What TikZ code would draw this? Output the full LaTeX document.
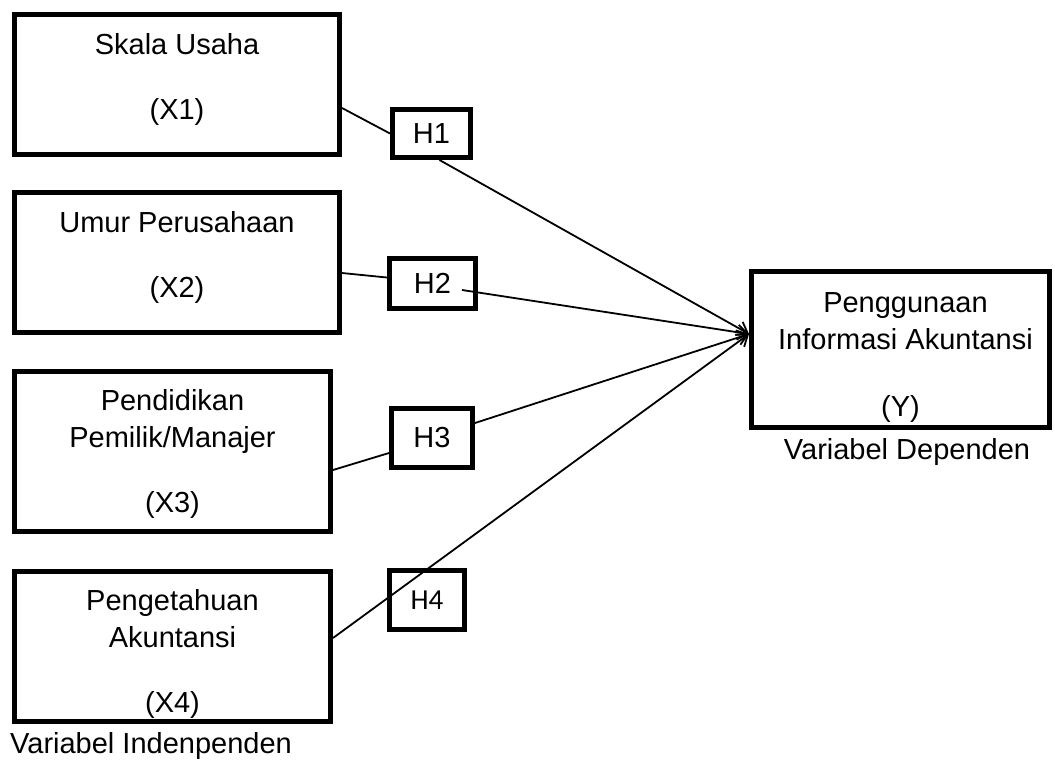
\documentclass[tikz,border=0pt]{standalone}
\usepackage{fontspec}
\setmainfont{Liberation Sans}
\newfontfamily\calibrifont{Carlito}
\usetikzlibrary{arrows.meta,positioning}
\begin{document}
\begin{tikzpicture}[x=1pt,y=-1pt,>={Straight Barb[length=10pt,width=15pt]}]
  \tikzstyle{every node}=[font=\fontsize{29}{37}\selectfont]
  \tikzstyle{varbox}=[rectangle,draw=black,line width=5pt,align=center,inner sep=0pt]
  \tikzstyle{hypbox}=[rectangle,draw=black,line width=5pt,inner sep=0pt]
  \tikzstyle{link}=[line width=1.8pt]
  \tikzstyle{captext}=[inner sep=0pt]
  \useasboundingbox (0,0) rectangle (1055,761);
  \begin{scope}
    \node [varbox,minimum width=325pt,minimum height=140pt] (x1) at (177,84.5) {Skala Usaha\\[28pt](X1)\\[-21pt]\mbox{}};
    \node [varbox,minimum width=325pt,minimum height=140pt] (x2) at (177,262.5) {Umur Perusahaan\\[28pt](X2)\\[-21pt]\mbox{}};
    \node [varbox,minimum width=316pt,minimum height=160pt] (x3) at (172.5,451.5) {\mbox{}\\[-11pt]Pendidikan\\Pemilik/Manajer\\[28pt](X3)};
    \node [varbox,minimum width=316pt,minimum height=150pt] (x4) at (172.5,646.5) {\mbox{}\\[-1pt]Pengetahuan\\Akuntansi\\[28pt](X4)};
    \node [captext,anchor=west] (indep) at (10,746) {Variabel Indenpenden};
  \end{scope}
  \begin{scope}
    \node [hypbox,minimum width=78pt,minimum height=48pt] (h1) at (431.5,133.5) {H1};
    \node [hypbox,minimum width=86pt,minimum height=50pt] (h2) at (432.5,283.5) {H2};
    \node [hypbox,minimum width=81pt,minimum height=59pt] (h3) at (432,438) {H3};
    \node [hypbox,minimum width=75pt,minimum height=59pt] (h4) at (427,600) {\calibrifont H4};
  \end{scope}
  \begin{scope}
    \node [varbox,minimum width=298pt,minimum height=156pt] (y) at (900.5,349.5) {\mbox{}\\[-2pt]\hspace*{10pt}Penggunaan\\\hspace*{10pt}Informasi Akuntansi\\[30pt](Y)};
    \node [captext] (dep) at (907,452) {Variabel Dependen};
    \coordinate (yin) at ([yshift=15.5pt]y.west);
  \end{scope}
  \draw [link] ([yshift=-23.5pt]x1.east) -- (h1.west);
  \draw [link,->] ([xshift=8pt]h1.south) -- (yin);
  \draw [link] ([yshift=-10.5pt]x2.east) -- ([yshift=6pt]h2.west);
  \draw [link,->] ([xshift=29.5pt,yshift=-6.5pt]h2.center) -- (yin);
  \draw [link] ([yshift=-18.5pt]x3.east) -- ([yshift=-15pt]h3.west);
  \draw [link,->] ([yshift=15pt]h3.east) -- (yin);
  \draw [link,->] ([yshift=8.5pt]x4.east) -- (yin);
\end{tikzpicture}
\end{document}
